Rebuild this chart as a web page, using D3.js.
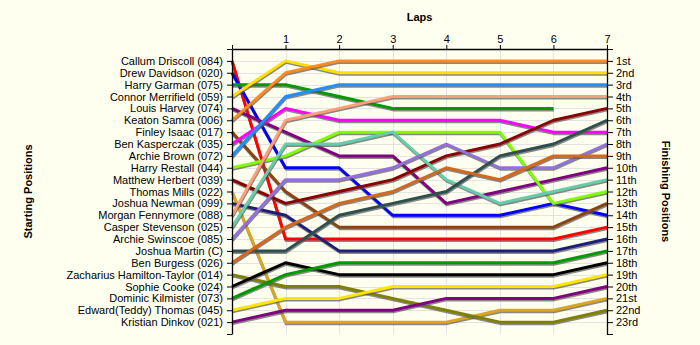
<!DOCTYPE html>
<html>
<head>
<meta charset="utf-8">
<script src="https://cdn.jsdelivr.net/npm/d3@7"></script>
<style>
  html, body { margin: 0; padding: 0; background: #FFFFF0; }
  svg { display: block; }
  text { font-family: "Liberation Sans", Arial, sans-serif; }
</style>
</head>
<body>
<svg id="chart" width="700" height="345"></svg>
<script>
// ---------- DATA ----------
const laps = [0, 1, 2, 3, 4, 5, 6, 7];
const lapLabels = ["", "1", "2", "3", "4", "5", "6", "7"];

const drivers = [
  "Callum Driscoll (084)", "Drew Davidson (020)", "Harry Garman (075)", "Connor Merrifield (059)",
  "Louis Harvey (074)", "Keaton Samra (006)", "Finley Isaac (017)", "Ben Kasperczak (035)",
  "Archie Brown (072)", "Harry Restall (044)", "Matthew Herbert (039)", "Thomas Mills (022)",
  "Joshua Newman (099)", "Morgan Fennymore (088)", "Casper Stevenson (025)", "Archie Swinscoe (085)",
  "Joshua Martin (C)", "Ben Burgess (026)", "Zacharius Hamilton-Taylor (014)", "Sophie Cooke (024)",
  "Dominic Kilmister (073)", "Edward(Teddy) Thomas (045)", "Kristian Dinkov (021)"
];

const finishLabels = [
  "1st", "2nd", "3rd", "4th", "5th", "6th", "7th", "8th", "9th", "10th", "11th", "12th",
  "13th", "14th", "15th", "16th", "17th", "18th", "19th", "20th", "21st", "22nd", "23rd"
];

// position at lap 0..7 (null = did not finish)
const positions = [
  [1, 16, 16, 16, 16, 16, 16, 15],   // Callum Driscoll
  [2, 10, 10, 14, 14, 14, 13, 14],   // Drew Davidson
  [3, 3, 4, 5, 5, 5, 5, null],       // Harry Garman
  [4, 1, 2, 2, 2, 2, 2, 2],          // Connor Merrifield
  [5, 7, 9, 9, 13, 12, 11, 10],      // Louis Harvey
  [6, 2, 1, 1, 1, 1, 1, 1],          // Keaton Samra
  [7, 12, 15, 15, 15, 15, 15, 13],   // Finley Isaac
  [8, 5, 6, 6, 6, 6, 7, 7],          // Ben Kasperczak
  [9, 4, 3, 3, 3, 3, 3, 3],          // Archie Brown
  [10, 9, 7, 7, 7, 7, 13, 12],       // Harry Restall
  [11, 13, 12, 11, 9, 8, 6, 5],      // Matthew Herbert
  [12, 23, 23, 23, 23, 22, 22, 21],  // Thomas Mills
  [13, 14, 17, 17, 17, 17, 17, 16],  // Joshua Newman
  [14, 6, 5, 4, 4, 4, 4, 4],         // Morgan Fennymore
  [15, 8, 8, 7, 11, 13, 12, 11],     // Casper Stevenson
  [16, 11, 11, 10, 8, 10, 10, 8],    // Archie Swinscoe
  [17, 17, 14, 13, 12, 9, 8, 6],     // Joshua Martin
  [18, 15, 13, 12, 10, 11, 9, 9],    // Ben Burgess
  [19, 20, 20, 21, 22, 23, 23, 22],  // Zacharius Hamilton-Taylor
  [20, 18, 19, 19, 19, 19, 19, 18],  // Sophie Cooke
  [21, 19, 18, 18, 18, 18, 18, 17],  // Dominic Kilmister
  [22, 21, 21, 20, 20, 20, 20, 19],  // Edward(Teddy) Thomas
  [23, 22, 22, 22, 21, 21, 21, 20]   // Kristian Dinkov
];

const colors = [
  "#ff0000", "#0000ff", "#009a00", "#ffe000", "#800080", "#ff8a1e", "#8b4513", "#ff00ff",
  "#1e90ff", "#7fff00", "#8b0000", "#daa520", "#1f1f78", "#ffa07a", "#66cdaa", "#9370db",
  "#2f4f4f", "#d2691e", "#808000", "#000000", "#009a00", "#ffe600", "#800080"
];

// ---------- CHART ----------
const svg = d3.select("#chart");
svg.append("rect").attr("width", 700).attr("height", 345).attr("fill", "#FFFFF0");

const x = d3.scaleLinear().domain([0, 7]).range([232, 607]);
const y = d3.scaleLinear().domain([0, 24]).range([49, 334]);

// grid
const grid = svg.append("g").attr("stroke", "#e4e4e4").attr("stroke-width", 1);
grid.selectAll("line.v").data(laps.slice(1, 7)).enter().append("line")
  .attr("x1", d => Math.round(x(d)) + 0.5).attr("x2", d => Math.round(x(d)) + 0.5)
  .attr("y1", y(0)).attr("y2", y(24));
grid.selectAll("line.h").data(d3.range(1, 24)).enter().append("line")
  .attr("x1", x(0)).attr("x2", x(7))
  .attr("y1", d => Math.round(y(d)) + 0.5).attr("y2", d => Math.round(y(d)) + 0.5);

// lines
const line = d3.line()
  .defined(d => d != null)
  .x((d, i) => x(laps[i]))
  .y(d => y(d));

const series = svg.append("g");
positions.forEach((p, i) => {
  series.append("path")
    .attr("d", line(p))
    .attr("fill", "none")
    .attr("stroke", "#555")
    .attr("stroke-opacity", 0.7)
    .attr("stroke-width", 3)
    .attr("stroke-linejoin", "round")
    .attr("transform", "translate(0.5,1.5)");
  series.append("path")
    .attr("d", line(p))
    .attr("fill", "none")
    .attr("stroke", colors[i])
    .attr("stroke-width", 3)
    .attr("stroke-linejoin", "round");
});

// axes
const rows = d3.range(0, 25);
const leftAxis = d3.axisLeft(y).tickValues(rows)
  .tickFormat(d => (d >= 1 && d <= 23) ? drivers[d - 1] : "")
  .tickSize(5).tickPadding(4).tickSizeOuter(0);
const rightAxis = d3.axisRight(y).tickValues(rows)
  .tickFormat(d => (d >= 1 && d <= 23) ? finishLabels[d - 1] : "")
  .tickSize(6).tickPadding(3).tickSizeOuter(0);
const topAxis = d3.axisTop(x).tickValues(laps)
  .tickFormat((d, i) => lapLabels[i])
  .tickSize(4).tickPadding(2).tickSizeOuter(0);

function styleAxis(g) {
  g.selectAll("path.domain").attr("stroke", "#000").attr("stroke-width", 1.3);
  g.selectAll(".tick line").attr("stroke", "#000");
  g.selectAll(".tick text").attr("fill", "#000").style("font-size", "11px")
    .style("font-family", '"Liberation Sans", Arial, sans-serif');
}

svg.append("g").attr("transform", `translate(${x(0)},0)`).call(leftAxis).call(styleAxis);
svg.append("g").attr("transform", `translate(${x(7)},0)`).call(rightAxis).call(styleAxis);
svg.append("g").attr("transform", `translate(0,${y(0)})`).call(topAxis).call(styleAxis);

// titles
svg.append("text").text("Laps")
  .attr("x", (x(0) + x(7)) / 2).attr("y", 21)
  .attr("text-anchor", "middle").attr("font-weight", "bold").attr("font-size", 11).attr("fill", "#000");
svg.append("text").text("Starting Positions")
  .attr("transform", `translate(32,${(y(0) + y(24)) / 2}) rotate(-90)`)
  .attr("text-anchor", "middle").attr("font-weight", "bold").attr("font-size", 11).attr("fill", "#000");
svg.append("text").text("Finishing Positions")
  .attr("transform", `translate(662,${(y(0) + y(24)) / 2}) rotate(90)`)
  .attr("text-anchor", "middle").attr("font-weight", "bold").attr("font-size", 11).attr("fill", "#000");
</script>
</body>
</html>
